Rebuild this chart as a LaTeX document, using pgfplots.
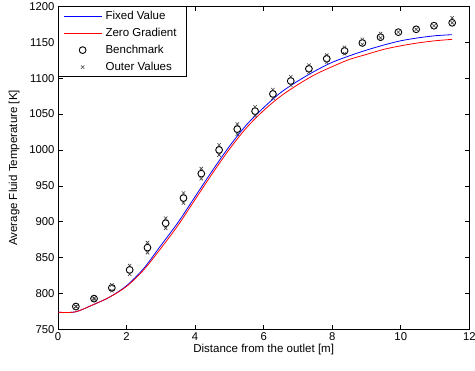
\documentclass[border=0pt]{standalone}
\usepackage{pgfplots}
\pgfplotsset{compat=1.18}
\usepackage{fontspec}
\setmainfont{Liberation Sans}
\usetikzlibrary{calc}
\begin{document}
\begin{tikzpicture}
\begin{axis}[
  scale only axis,
  width=411pt, height=323pt,
  xmin=0, xmax=12, ymin=750, ymax=1200,
  xtick={0,2,...,12}, ytick={750,800,...,1200},
  tick align=inside, major tick length=4.5pt,
  tick style={black, line width=0.6pt},
  axis line style={black, line width=0.7pt},
  /pgf/number format/assume math mode=true,
  /pgf/number format/1000 sep={},
  tick label style={font=\fontsize{11.3}{13}\selectfont},
  label style={font=\fontsize{11.5}{13}\selectfont},
  xlabel={Distance from the outlet [m]},
  ylabel={Average Fluid Temperature [K]},
  xlabel style={at={(axis description cs:0.5,-0.062)}, anchor=center},
  ylabel style={at={(axis description cs:-0.107,0.5)}, anchor=center},
  legend cell align=left,
  legend style={at={(0,1)}, anchor=north west,
    font=\fontsize{11.5}{13}\selectfont, inner xsep=5.5pt, inner ysep=1pt,
    nodes={inner ysep=3.6pt, inner xsep=4pt}},
  legend image code/.code={\draw[mark repeat=2,mark phase=2,#1] plot coordinates {(0cm,0cm) (0.65cm,0cm) (1.3cm,0cm)};},
]
\addplot[color=blue, line width=0.8pt, smooth, no marks] coordinates {
(0,774) (0.5,774.5) (1.0,784) (1.5,795) (2.0,811) (2.5,835) (3.0,867) (3.5,899)
(4.0,935) (4.5,971) (5.0,1005) (5.5,1035) (6.0,1059) (6.5,1080) (7.0,1096)
(7.5,1110) (8.0,1122) (8.5,1131) (9.0,1139) (9.5,1146) (10.0,1152) (10.5,1156)
(11.0,1159) (11.5,1160.5)};
\addlegendentry{Fixed Value}
\addplot[color=red, line width=0.8pt, smooth, no marks] coordinates {
(0,774) (0.5,774.5) (1.0,784) (1.5,795) (2.0,810) (2.5,833) (3.0,863) (3.5,895)
(4.0,931) (4.5,967) (5.0,1001) (5.5,1031) (6.0,1055) (6.5,1075) (7.0,1091)
(7.5,1105) (8.0,1116) (8.5,1126) (9.0,1133) (9.5,1140) (10.0,1145) (10.5,1149)
(11.0,1152) (11.5,1154)};
\addlegendentry{Zero Gradient}
\addplot[only marks, mark=o, mark size=3.4pt, color=black, mark options={line width=0.9pt}] coordinates {
(0.52,782) (1.05,793) (1.57,808) (2.09,833) (2.61,864) (3.14,898) (3.66,933)
(4.18,967) (4.70,1000) (5.23,1029) (5.75,1054) (6.27,1078) (6.79,1096) (7.32,1113)
(7.84,1127) (8.36,1138) (8.88,1149) (9.41,1157) (9.93,1164) (10.45,1168)
(10.97,1173) (11.50,1177)};
\addlegendentry{Benchmark}
\addplot[only marks, mark=x, mark size=2.4pt, color=black!75, mark options={line width=0.6pt}] coordinates {
(0.52,782) (1.05,794) (1.57,812) (2.09,839) (2.61,871) (3.14,905) (3.66,940)
(4.18,974) (4.70,1007) (5.23,1036) (5.75,1060) (6.27,1084) (6.79,1102) (7.32,1118)
(7.84,1132) (8.36,1143) (8.88,1154) (9.41,1162) (9.93,1164) (10.45,1168)
(10.97,1173) (11.50,1184)
(0.52,782) (1.05,792) (1.57,804) (2.09,827) (2.61,857) (3.14,891) (3.66,926)
(4.18,960) (4.70,993) (5.23,1022) (5.75,1048) (6.27,1072) (6.79,1090) (7.32,1108)
(7.84,1122) (8.36,1134) (8.88,1147) (9.41,1156) (11.50,1177)};
\addlegendentry{Outer Values}
\end{axis}
\pgfresetboundingbox
\path ($(current axis.south west)+(-58pt,-40.7pt)$) rectangle ($(current axis.north east)+(5.7pt,6.3pt)$);
\end{tikzpicture}
\end{document}
